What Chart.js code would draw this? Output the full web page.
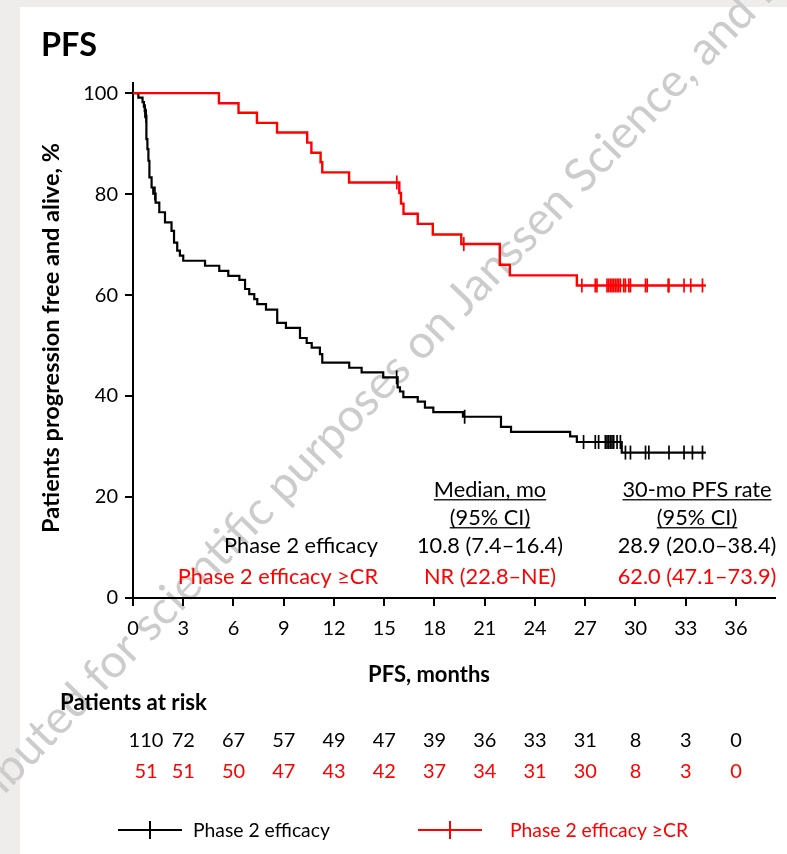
<!DOCTYPE html>
<html><head><meta charset="utf-8">
<script src="https://cdn.jsdelivr.net/npm/chart.js@4/dist/chart.umd.min.js"></script>
<style>html,body{margin:0;padding:0;background:#fff}#wrap{width:787px;height:854px;position:relative}</style>
</head><body><div id="wrap"><canvas id="c"></canvas></div>
<script>
// ---------- data ----------
const xTickValues = [0,3,6,9,12,15,18,21,24,27,30,33,36];
const yTickValues = [0,20,40,60,80,100];
const seriesNames = ['Phase 2 efficacy', 'Phase 2 efficacy \u2265CR'];

const blackTimes = [0,0.32,0.57,0.65,0.70,0.75,0.80,0.86,0.92,0.98,1.11,1.21,1.35,1.57,1.91,2.3,2.45,2.64,2.8,3.0,4.3,5.15,5.69,6.35,6.69,6.94,7.24,7.42,7.94,8.61,9.13,9.97,10.37,10.67,11.16,11.3,12.91,13.65,14.94,15.8,15.94,16.14,17.0,17.43,17.93,19.7,21.97,22.57,26.1,26.5,29.18,34.2];
const blackSurv  = [100,99.1,98.2,97.3,96.4,95.5,90.9,88.9,86.6,83.3,81.3,80.1,78.3,76.4,74.4,72.7,70.4,68.8,67.8,66.8,65.8,64.8,63.8,63.0,61.2,60.2,59.2,58.2,57.1,54.5,53.5,51.5,50.5,49.6,48.3,46.6,45.6,44.7,43.7,41.7,40.9,39.8,38.9,37.7,36.8,35.9,33.9,32.9,32.0,30.9,28.8,28.8];
const blackCensorTimes = [0.72,0.78,1.31,15.74,19.8,26.9,27.6,27.8,28.2,28.3,28.4,28.5,28.6,28.7,28.9,29.1,29.4,29.7,30.6,30.8,32.0,32.9,33.4,34.0];
const blackCensorSurv  = [96.4,95.5,80.1,43.7,35.9,30.9,30.9,30.9,30.9,30.9,30.9,30.9,30.9,30.9,30.9,30.9,28.8,28.8,28.8,28.8,28.8,28.8,28.8,28.8];

const redTimes = [0,5.13,6.3,7.4,8.6,10.4,10.65,11.2,11.3,12.9,15.9,16.0,16.15,17.0,17.9,19.6,21.9,22.5,26.5,34.2];
const redSurv  = [100,98.0,96.1,94.1,92.2,90.2,88.2,86.3,84.3,82.3,80.2,78.1,76.1,74.1,72.0,70.1,66.0,63.9,61.9,61.9];
const redCensorTimes = [15.75,19.75,26.8,27.6,27.7,28.3,28.4,28.5,28.6,28.7,28.8,28.9,29.0,29.1,29.3,29.4,29.6,29.7,30.6,30.7,31.95,32.0,32.9,33.3,34.0];
const redCensorSurv  = [82.3,70.1,61.9,61.9,61.9,61.9,61.9,61.9,61.9,61.9,61.9,61.9,61.9,61.9,61.9,61.9,61.9,61.9,61.9,61.9,61.9,61.9,61.9,61.9,61.9];

const atRiskBlack = [110,72,67,57,49,47,39,36,33,31,8,3,0];
const atRiskRed   = [51,51,50,47,43,42,37,34,31,30,8,3,0];

const tableHeads = [['Median, mo','(95% CI)'],['30-mo PFS rate','(95% CI)']];
const medianText = ['10.8 (7.4\u201316.4)','NR (22.8\u2013NE)'];
const rateText   = ['28.9 (20.0\u201338.4)','62.0 (47.1\u201373.9)'];

const titleText = 'PFS';
const yTitle = 'Patients progression free and alive, %';
const xTitle = 'PFS, months';
const atRiskTitle = 'Patients at risk';
const watermark = 'distributed for scientific purposes on Janssen Science, and is not for promotional use';

// ---------- helpers ----------
const BLACK = '#000000', RED = '#ff0000';
const FAM = 'Lato, "Open Sans", sans-serif';
function pts(t, s){ return t.map((v,i)=>({x:v,y:s[i]})); }
function fit(ctx, text, width, weight){
  ctx.font = weight + ' 20px ' + FAM;
  const w = ctx.measureText(text).width;
  const s = 20 * width / w;
  ctx.font = weight + ' ' + s.toFixed(2) + 'px ' + FAM;
  return s;
}

const deco = {
  id: 'deco',
  beforeDraw(chart){
    const ctx = chart.ctx;
    ctx.save();
    ctx.fillStyle = '#eeedeb';
    ctx.fillRect(0,0,chart.width,chart.height);
    ctx.fillStyle = '#ffffff';
    ctx.fillRect(20,7,chart.width-20,chart.height-7);
    // watermark
    ctx.fillStyle = '#cccccc';
    ctx.font = '40px ' + FAM;
    const a = ctx.measureText('distributed for ').width + ctx.measureText('scientific').width/2;
    const b = ctx.measureText('distributed for scientific purposes on Janssen ').width + ctx.measureText('Science,').width/2;
    const size = 40 * 615 / (b - a);
    ctx.font = size.toFixed(2) + 'px ' + FAM;
    const a2 = ctx.measureText('distributed for ').width + ctx.measureText('scientific').width/2;
    const th = 46 * Math.PI/180;
    const off = 0.26*size;
    const px = 205 + off*Math.sin(th), py = 570 + off*Math.cos(th);
    ctx.translate(px, py);
    ctx.rotate(-th);
    ctx.textAlign = 'left';
    ctx.textBaseline = 'alphabetic';
    ctx.fillText(watermark, -a2, 0);
    ctx.restore();
  },
  afterDraw(chart){
    const ctx = chart.ctx;
    const xs = chart.scales.x;
    ctx.save();
    ctx.textBaseline = 'middle';
    // title
    ctx.fillStyle = BLACK;
    ctx.textAlign = 'left';
    fit(ctx, titleText, 56, 'bold');
    ctx.fillText(titleText, 41, 46);
    // y title
    ctx.save();
    ctx.translate(51, 338);
    ctx.rotate(-Math.PI/2);
    ctx.textAlign = 'center';
    fit(ctx, yTitle, 390, 'bold');
    ctx.fillText(yTitle, 0, 0);
    ctx.restore();
    // x title
    ctx.textAlign = 'center';
    fit(ctx, xTitle, 122, 'bold');
    ctx.fillText(xTitle, 429, 675);
    // at risk
    ctx.textAlign = 'left';
    fit(ctx, atRiskTitle, 147, 'bold');
    ctx.fillText(atRiskTitle, 60, 703);
    ctx.font = '20px ' + FAM;
    ctx.textAlign = 'center';
    xTickValues.forEach((v,i)=>{
      const xp = xs.getPixelForValue(v) + (i===0 ? 13 : 0);
      ctx.fillStyle = BLACK; ctx.fillText(String(atRiskBlack[i]), xp, 741);
      ctx.fillStyle = RED;   ctx.fillText(String(atRiskRed[i]), xp, 772);
    });
    // table
    const tsize = fit(ctx, seriesNames[0], 154, 'normal');
    const colX = [490, 697];
    ctx.fillStyle = BLACK;
    ctx.textAlign = 'center';
    tableHeads.forEach((h,ci)=>{
      [490,518].forEach((yy,ri)=>{
        const t = h[ri];
        ctx.fillText(t, colX[ci], yy);
        const w = ctx.measureText(t).width;
        ctx.fillRect(colX[ci]-w/2, yy + tsize*0.42, w, 1.3);
      });
    });
    const rowY = [546, 577];
    const cols = [BLACK, RED];
    rowY.forEach((yy,ri)=>{
      ctx.fillStyle = cols[ri];
      ctx.textAlign = 'right';
      ctx.fillText(seriesNames[ri], 378, yy);
      ctx.textAlign = 'center';
      ctx.fillText(medianText[ri], colX[0], yy);
      ctx.fillText(rateText[ri], colX[1], yy);
    });
    // legend
    const ly = 830;
    const lx = [118, 418], tx = [193, 510];
    fit(ctx, seriesNames[0], 137, 'normal');
    ctx.textAlign = 'left';
    [0,1].forEach(i=>{
      ctx.strokeStyle = cols[i]; ctx.lineWidth = 2;
      ctx.beginPath();
      ctx.moveTo(lx[i], ly); ctx.lineTo(lx[i]+64, ly);
      ctx.moveTo(lx[i]+32, ly-9); ctx.lineTo(lx[i]+32, ly+9);
      ctx.stroke();
      ctx.fillStyle = cols[i];
      ctx.fillText(seriesNames[i], tx[i], ly+1);
    });
    ctx.restore();
  }
};

const stepDs = (label, t, s, color, w) => ({
  label, data: pts(t,s), borderColor: color, backgroundColor: color,
  borderWidth: w, stepped: 'before', pointRadius: 0, fill: false, tension: 0
});
const censorDs = (label, t, s, color) => ({
  label, data: pts(t,s), showLine: false, borderColor: color, backgroundColor: color,
  pointStyle: 'line', rotation: 90, pointRadius: 7, pointBorderWidth: 1.7, pointHoverRadius: 7
});

new Chart(document.getElementById('c'), {
  type: 'line',
  data: { datasets: [
    stepDs(seriesNames[1], redTimes, redSurv, RED, 2.4),
    censorDs(seriesNames[1]+' censored', redCensorTimes, redCensorSurv, RED),
    stepDs(seriesNames[0], blackTimes, blackSurv, BLACK, 2.2),
    censorDs(seriesNames[0]+' censored', blackCensorTimes, blackCensorSurv, BLACK)
  ]},
  options: {
    responsive: true, maintainAspectRatio: false, animation: false,
    layout: { padding: { top: 83, right: 12, left: 0, bottom: 0 } },
    plugins: { legend: { display: false }, tooltip: { enabled: false } },
    scales: {
      x: {
        type: 'linear', min: 0, max: 38.33,
        afterBuildTicks(s){ s.ticks = xTickValues.map(v=>({value:v})); },
        afterFit(s){ s.height = 256; },
        ticks: { autoSkip: false, maxRotation: 0, color: BLACK, padding: 11, font: { family: FAM, size: 20 } },
        grid: { drawOnChartArea: false, drawTicks: true, tickLength: 8, color: BLACK, lineWidth: 2 },
        border: { display: true, color: BLACK, width: 2 }
      },
      y: {
        min: 0, max: 102,
        afterBuildTicks(s){ s.ticks = yTickValues.map(v=>({value:v})); },
        afterFit(s){ s.width = 133; },
        ticks: { color: BLACK, padding: 7, font: { family: FAM, size: 20 } },
        grid: { drawOnChartArea: false, drawTicks: true, tickLength: 8, color: BLACK, lineWidth: 2 },
        border: { display: true, color: BLACK, width: 2 }
      }
    }
  },
  plugins: [deco]
});
</script>
</body></html>
